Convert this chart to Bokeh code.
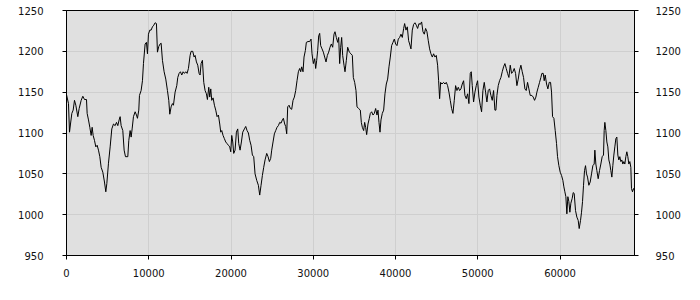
from bokeh.plotting import figure
from bokeh.models import Range1d, LinearAxis, FixedTicker, BasicTickFormatter, ColumnDataSource
from bokeh.embed import file_html
from bokeh.resources import INLINE

x_ticks = [0, 10000, 20000, 30000, 40000, 50000, 60000]
y_ticks = [950, 1000, 1050, 1100, 1150, 1200, 1250]

xs = [
    0, 243, 365, 486, 648, 810, 972, 1134, 1377, 1539, 1782, 1985, 2187, 2430, 2511, 2673, 2835, 2997, 3119, 3240,
    3402, 3564, 3726, 3888, 4050, 4212, 4415, 4617, 4779, 4901, 5103, 5306, 5508, 5711, 5913, 6075, 6237, 6399, 6521, 6642,
    6845, 7007, 7169, 7452, 7574, 7736, 7857, 7979, 8141, 8343, 8505, 8627, 8789, 8870, 9072, 9234, 9356, 9558, 9720, 9842,
    9963, 10125, 10287, 10449, 10611, 10773, 10935, 11057, 11219, 11381,
    11502, 11664, 11867, 12069, 12272, 12434, 12555, 12717, 12879, 13001, 13203, 13406, 13527, 13689, 13851, 14013, 14175, 14337, 14499, 14661,
    14823, 15026, 15147, 15350, 15512, 15633, 15795, 15957, 16119, 16241, 16362, 16524, 16686, 16848, 17010, 17132, 17294, 17415, 17537, 17658,
    17820, 17982, 18144, 18306, 18468, 18630, 18752, 18873, 19035, 19197, 19359, 19521, 19683, 19845, 19967, 20088, 20210, 20331, 20493, 20655,
    20817, 20939, 21101, 21263, 21425, 21627, 21789, 21951, 22113, 22275, 22437, 22599, 22761,
    22923, 23126, 23328, 23490, 23652, 23814, 23976, 24138, 24341, 24503, 24665, 24827, 24948, 25110, 25272, 25434, 25596, 25758, 25920, 26082,
    26244, 26366, 26528, 26649, 26771, 26892, 27054, 27216, 27378, 27540, 27702, 27864, 28026, 28188, 28350, 28472, 28593, 28755, 28877, 29039,
    29160, 29363, 29565, 29727, 29849, 30011, 30173, 30294, 30416, 30537, 30659, 30780, 30902, 31064, 31226, 31388, 31550, 31712, 31874, 32036,
    32198, 32360, 32522, 32643, 32805, 32967, 33089, 33210, 33332, 33453, 33575, 33737, 33858, 34020, 34182,
    34385, 34587, 34749, 34871, 35033, 35195, 35316, 35519, 35721, 35843, 35964, 36126, 36248, 36369, 36491, 36653, 36815, 36936, 37098, 37260,
    37422, 37584, 37746, 37868, 37989, 38111, 38232, 38394, 38556, 38718, 38880, 39042, 39204, 39366, 39528, 39690, 39852, 40014, 40176, 40338,
    40500, 40662, 40824, 40986, 41108, 41270, 41432, 41594, 41715, 41877, 42039, 42201, 42363, 42525, 42687, 42849, 43011, 43173, 43335, 43497,
    43659, 43821, 43983, 44145, 44307, 44469, 44631, 44793, 44955, 45117, 45239, 45360, 45482, 45644,
    45846, 46008, 46170, 46332, 46494, 46656, 46818, 46980, 47142, 47304, 47466, 47628, 47790, 47952, 48114, 48276, 48438, 48600, 48762, 48924,
    49086, 49208, 49329, 49491, 49653, 49815, 49977, 50139, 50301, 50463, 50625, 50787, 50949, 51111, 51273, 51435, 51597, 51759, 51921, 52083,
    52205, 52326, 52488, 52650, 52812, 52974, 53136, 53298, 53460, 53622, 53784, 53946, 54108, 54270, 54432, 54594, 54756, 54918, 55080, 55242,
    55404, 55566, 55728, 55890, 56052, 56214, 56376, 56579, 56741, 56903, 57065,
    57186, 57348, 57510, 57672, 57794, 57956, 58077, 58199, 58361, 58523, 58685, 58847, 58968, 59090, 59252, 59414, 59576, 59697, 59859, 60021,
    60183, 60345, 60467, 60588, 60710, 60831, 60953, 61074, 61196, 61317, 61479, 61601, 61722, 61884, 62046, 62208, 62330, 62492, 62613, 62735,
    62856, 62978, 63099, 63221, 63342, 63504, 63666, 63828, 63990, 64152, 64233, 64355, 64476, 64638, 64800, 64962, 65124, 65286, 65367, 65448,
    65570, 65691, 65813, 65934, 66056, 66177, 66299, 66420, 66542, 66663, 66785, 66906, 67028, 67149, 67271, 67392, 67514, 67635, 67757, 67878,
    68000, 68121, 68243, 68364, 68486, 68607, 68688, 68810, 68931, 69053,
]

ys = [
    1147, 1136, 1101, 1111, 1124, 1128, 1140, 1134, 1120, 1130, 1140, 1145, 1141, 1141, 1124, 1116, 1107, 1097, 1107, 1097,
    1091, 1083, 1085, 1079, 1071, 1058, 1052, 1040, 1028, 1038, 1063, 1083, 1105, 1111, 1109, 1113, 1109, 1116, 1120, 1109,
    1103, 1079, 1071, 1071, 1091, 1103, 1095, 1105, 1120, 1126, 1122, 1118, 1128, 1146, 1152, 1164, 1185, 1209, 1211, 1197,
    1221, 1226, 1226, 1230, 1232, 1235, 1234, 1199, 1206, 1209,
    1210, 1189, 1175, 1166, 1152, 1140, 1123, 1132, 1136, 1134, 1150, 1158, 1168, 1173, 1175, 1171, 1175, 1173, 1175, 1173,
    1179, 1195, 1200, 1200, 1193, 1195, 1187, 1183, 1173, 1171, 1185, 1189, 1162, 1152, 1148, 1141, 1156, 1144, 1154, 1140,
    1143, 1134, 1128, 1120, 1122, 1111, 1101, 1103, 1097, 1093, 1089, 1087, 1085, 1083, 1077, 1097, 1089, 1075, 1079, 1101,
    1105, 1087, 1079, 1089, 1101, 1105, 1108, 1103, 1100, 1091, 1085, 1073, 1071,
    1050, 1042, 1036, 1024, 1036, 1048, 1058, 1067, 1075, 1071, 1065, 1069, 1079, 1089, 1099, 1103, 1107, 1109, 1113, 1112,
    1116, 1118, 1111, 1108, 1099, 1132, 1134, 1130, 1129, 1140, 1144, 1152, 1164, 1175, 1179, 1175, 1181, 1175, 1193, 1201,
    1211, 1212, 1212, 1215, 1197, 1185, 1191, 1179, 1189, 1201, 1219, 1222, 1207, 1203, 1199, 1193, 1187, 1195, 1199, 1205,
    1209, 1205, 1221, 1224, 1217, 1211, 1217, 1185, 1205, 1217, 1195, 1183, 1175, 1189, 1205,
    1199, 1197, 1195, 1168, 1162, 1152, 1132, 1130, 1128, 1113, 1107, 1103, 1113, 1107, 1098, 1111, 1118, 1124, 1126, 1122,
    1124, 1130, 1122, 1128, 1113, 1101, 1116, 1124, 1128, 1148, 1160, 1166, 1181, 1193, 1207, 1211, 1215, 1209, 1207, 1215,
    1217, 1221, 1217, 1228, 1234, 1226, 1230, 1213, 1209, 1203, 1226, 1233, 1235, 1232, 1228, 1234, 1233, 1236, 1224, 1221,
    1228, 1224, 1213, 1203, 1197, 1193, 1197, 1193, 1195, 1183, 1164, 1142, 1162, 1160,
    1162, 1160, 1162, 1158, 1150, 1140, 1130, 1124, 1140, 1158, 1152, 1156, 1152, 1154, 1160, 1164, 1146, 1142, 1148, 1136,
    1173, 1175, 1158, 1138, 1150, 1158, 1164, 1144, 1134, 1126, 1152, 1162, 1150, 1138, 1152, 1154, 1146, 1140, 1152, 1128,
    1128, 1146, 1158, 1164, 1168, 1175, 1181, 1185, 1179, 1173, 1168, 1183, 1173, 1175, 1179, 1173, 1158, 1166, 1177, 1183,
    1175, 1168, 1154, 1152, 1162, 1154, 1146, 1146, 1144, 1140, 1144,
    1150, 1156, 1162, 1168, 1173, 1173, 1164, 1171, 1160, 1154, 1162, 1162, 1150, 1120, 1118, 1103, 1087, 1071, 1060, 1052,
    1048, 1042, 1034, 1028, 1022, 1001, 1022, 1016, 1003, 1014, 1020, 1027, 1026, 1005, 997, 993, 983, 993, 1003, 1016,
    1036, 1054, 1060, 1050, 1046, 1036, 1040, 1050, 1060, 1062, 1079, 1062, 1054, 1044, 1054, 1062, 1071, 1073, 1103, 1113,
    1103, 1089, 1083, 1067, 1062, 1054, 1046, 1060, 1073, 1083, 1093, 1095, 1073, 1067, 1071, 1065, 1067, 1062, 1065, 1062,
    1071, 1077, 1071, 1062, 1065, 1058, 1032, 1028, 1032, 1030,
]

src = ColumnDataSource(data=dict(x=xs, y=ys))

FONT = "DejaVu Sans"

p = figure(
    output_backend="svg", toolbar_location=None,
    frame_width=568, frame_height=245,
    min_border_left=66, min_border_right=66, min_border_top=10, min_border_bottom=45,
    x_range=Range1d(0, max(xs)), y_range=Range1d(950, 1250),
    background_fill_color="#e0e0e0", border_fill_color="white",
)
p.outline_line_color = "black"
p.outline_line_width = 1

p.line("x", "y", source=src, line_color="black", line_width=1)

p.xaxis.ticker = FixedTicker(ticks=x_ticks)
p.xaxis.formatter = BasicTickFormatter(use_scientific=False)
p.yaxis.ticker = FixedTicker(ticks=y_ticks)

right = LinearAxis(ticker=FixedTicker(ticks=y_ticks))
p.add_layout(right, "right")

for ax in p.xaxis + p.yaxis:
    ax.axis_line_color = "black"
    ax.major_tick_line_color = "black"
    ax.major_tick_out = 4
    ax.major_tick_in = 0
    ax.minor_tick_line_color = None
    ax.major_label_text_font = FONT
    ax.major_label_text_font_size = "10px"
    ax.major_label_text_color = "#111111"

p.xaxis.major_label_standoff = 9
p.yaxis[0].major_label_standoff = 19
right.major_label_standoff = 17

p.xgrid.ticker = FixedTicker(ticks=x_ticks)
p.ygrid.ticker = FixedTicker(ticks=y_ticks)
p.grid.grid_line_color = "#cfcfcf"
p.grid.grid_line_width = 1

open("out.html", "w").write(file_html(p, INLINE))
